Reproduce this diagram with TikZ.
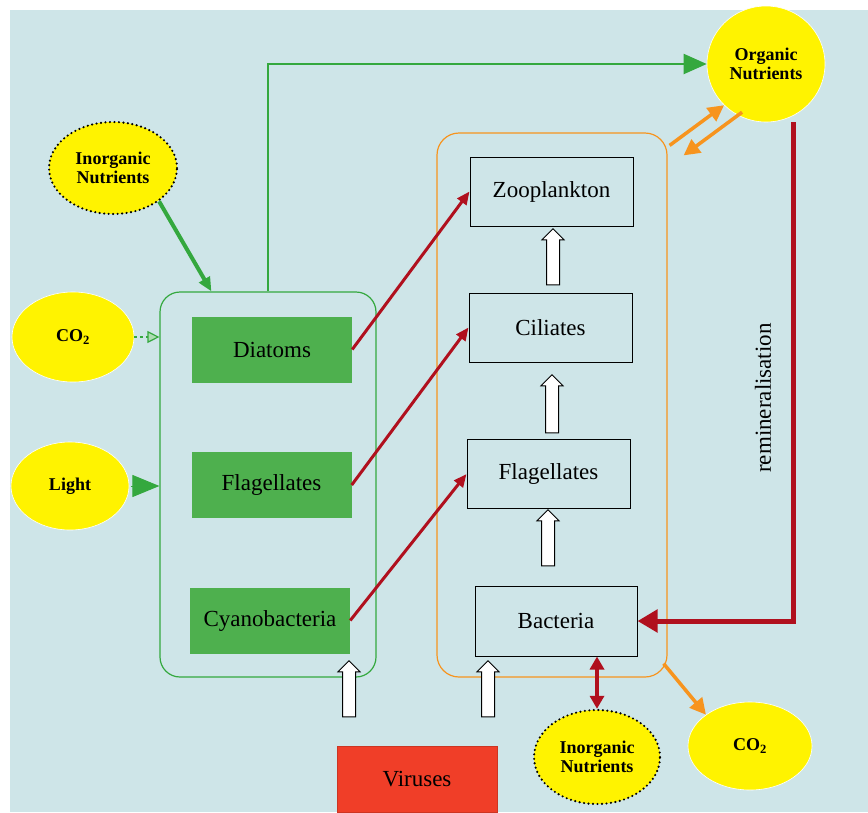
\documentclass[tikz,border=0pt]{standalone}
\usepackage{fontspec}
\setmainfont{Liberation Serif}
\usetikzlibrary{shapes.geometric, shapes.arrows, arrows.meta}

\definecolor{bgblue}{RGB}{206,229,232}
\definecolor{sunyellow}{RGB}{255,243,0}
\definecolor{algagreen}{RGB}{78,176,78}
\definecolor{linegreen}{RGB}{52,168,62}
\definecolor{flowred}{RGB}{176,16,30}
\definecolor{orangeline}{RGB}{247,148,30}
\definecolor{virusred}{RGB}{240,62,40}

\tikzstyle{source} = [ellipse, fill=sunyellow, draw=white, line width=0.6pt, inner sep=0pt, align=center, font=\fontsize{18}{19}\selectfont\bfseries]
\tikzstyle{pool} = [source, draw=black, line width=2.4pt, dash pattern=on 0pt off 4.5pt, line cap=round]
\tikzstyle{algae} = [rectangle, minimum width=160, minimum height=66, fill=algagreen, font=\fontsize{23}{25}\selectfont]
\tikzstyle{consumer} = [rectangle, minimum width=163, minimum height=69, draw=black, line width=1pt, font=\fontsize{23}{25}\selectfont]
\tikzstyle{uparrow} = [single arrow, shape border rotate=90, minimum height=56, single arrow head extend=4.5pt, inner sep=6pt, fill=white, draw=black, line width=1pt]
\tikzstyle{grazing} = [line width=3pt, draw=flowred, -{Triangle[length=13pt,width=11pt]}]
\tikzstyle{exchange} = [line width=3.5pt, draw=orangeline, -{Triangle[length=16pt,width=16pt]}]
\tikzstyle{supply} = [line width=4pt, draw=linegreen, -{Triangle[length=14pt,width=12pt]}]

\begin{document}
\begin{tikzpicture}[x=1pt,y=-1pt]

        \useasboundingbox (0,0) rectangle (868,812);
        \fill[bgblue] (10,10) rectangle (868,812);

        % Compartments
        \node (gbox) [rectangle, rounded corners=20, minimum width=216, minimum height=385, draw=linegreen, line width=1.2pt] at (268,484.5) {};
        \node (obox) [rectangle, rounded corners=22, minimum width=230, minimum height=544, draw=orangeline, line width=1.2pt] at (552,405) {};

        % Phytoplankton
        \node (dia) [algae] at (272,349.5) {Diatoms};
        \node (fla1) [algae] at (271.5,485) {Flagellates};
        \node (cya) [algae] at (270,620.5) {Cyanobacteria};

        % Heterotrophs
        \node (zoo) [consumer] at (551.5,191.5) {Zooplankton};
        \node (cil) [consumer] at (550.5,327.5) {Ciliates};
        \node (fla2) [consumer] at (548.5,474) {Flagellates};
        \node (bac) [consumer, minimum width=162, minimum height=70] at (556,621) {Bacteria};

        % Sources and pools
        \node (org) [source, minimum width=118, minimum height=116] at (766,64) {Organic\\Nutrients};
        \node (inl) [pool, minimum width=128, minimum height=92] at (113,168) {Inorganic\\Nutrients};
        \node (co2l) [source, minimum width=122, minimum height=90] at (73,337) {CO\textsubscript{2}};
        \node (lig) [source, minimum width=118, minimum height=88] at (70,486) {Light};
        \node (inb) [pool, minimum width=126, minimum height=94] at (597,757) {Inorganic\\Nutrients};
        \node (co2b) [source, minimum width=124, minimum height=88] at (750,746) {CO\textsubscript{2}};
        \node (vir) [rectangle, minimum width=160, minimum height=66, fill=virusred, draw=virusred!85!black, font=\fontsize{23}{25}\selectfont] at (417,779) {Viruses};

        % Block arrows
        \node (up1) [uparrow] at (553,260) {};
        \node (up2) [uparrow, minimum height=58] at (552,407) {};
        \node (up3) [uparrow] at (548,541) {};
        \node (up4) [uparrow] at (349,692) {};
        \node (up5) [uparrow] at (488,692) {};

        % Arrows
        \draw [supply] (inl.south east) -- ([xshift=52]gbox.north west);
        \draw [linegreen, line width=1.2pt, dashed, -{Triangle[open, fill=linegreen!40, length=12pt, width=12pt]}] (co2l.east) -- (gbox.west |- co2l);
        \draw [linegreen, line width=1pt, -{Triangle[length=27pt, width=22pt]}] ([xshift=2]lig.east) -- (gbox.west |- lig);
        \draw [linegreen, line width=2pt, -{Triangle[length=23pt, width=20pt]}] (gbox.north) |- (org.west);

        \draw [grazing] (dia.east) -- (zoo.west);
        \draw [grazing] (fla1.east) -- (cil.west);
        \draw [grazing] (cya.east) -- (fla2.west);

        \draw [exchange] ([shift={(2,13)}]obox.north east) -- (org.south west);
        \draw [exchange] ([shift={(18,7)}]org.south west) -- ([shift={(16,23)}]obox.north east);
        \draw [exchange] ([shift={(-4,-14)}]obox.south east) -- (co2b.north west);

        \draw [flowred, line width=5pt, -{Triangle[length=20pt, width=22pt]}] ([xshift=27]org.south) |- (bac.east);
        \node (remlab) [rotate=90, font=\fontsize{23}{25}\selectfont] at (763,398) {remineralisation};
        \draw [flowred, line width=3.5pt, {Triangle[length=13pt, width=14pt]}-{Triangle[length=13pt, width=14pt]}] ([xshift=41]bac.south) -- (inb.north);

    \end{tikzpicture}
\end{document}
